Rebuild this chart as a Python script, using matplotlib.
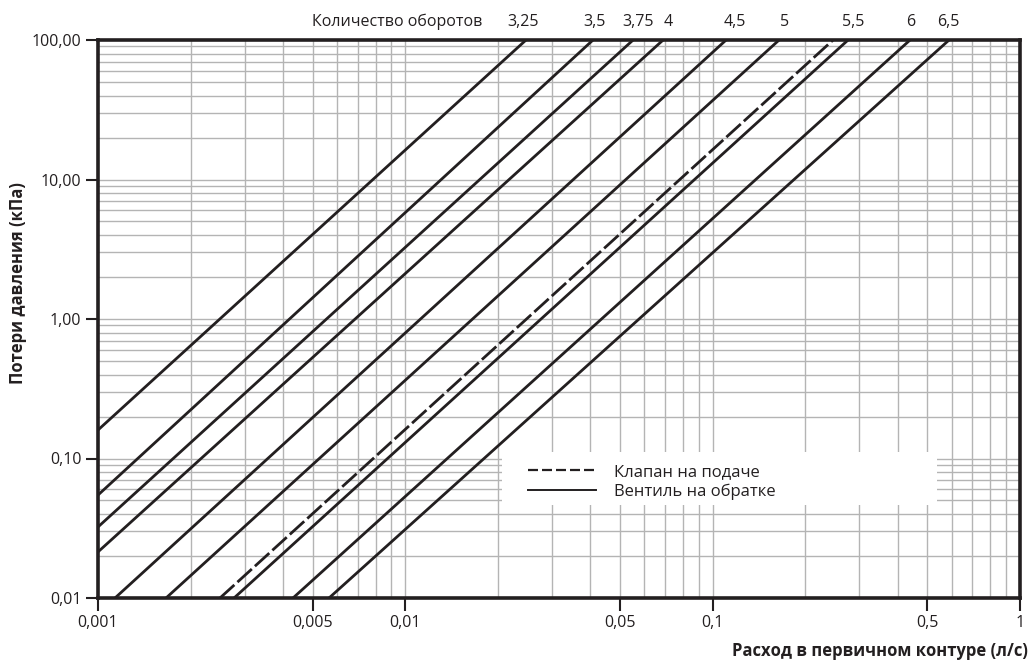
import matplotlib
matplotlib.use("Agg")
import matplotlib.pyplot as plt
from matplotlib.lines import Line2D
from matplotlib.patches import Rectangle
from matplotlib.ticker import FixedLocator, FixedFormatter, LogLocator, NullFormatter

plt.rcParams['font.family'] = ['Open Sans', 'DejaVu Sans']

# ---- data ----
line_start_x = [0.001, 0.001, 0.001, 0.001, 0.001136, 0.001665, 0.002494, 0.002771, 0.00431, 0.005646]
line_start_y = [0.16, 0.0547, 0.0323, 0.0214, 0.01, 0.01, 0.01, 0.01, 0.01, 0.01]
line_end_x = [0.0247, 0.0408, 0.0551, 0.0690, 0.1106, 0.1645, 0.2465, 0.2758, 0.4388, 0.5878]
line_end_y = [100, 100, 100, 100, 100, 100, 100, 100, 100, 100]
line_dashed = [False, False, False, False, False, False, True, False, False, False]

turn_labels = ["3,25", "3,5", "3,75", "4", "4,5", "5", "5,5", "6", "6,5"]
turn_label_x = [0.02415, 0.0414, 0.0572, 0.0716, 0.1183, 0.172, 0.2864, 0.442, 0.583]

x_ticks = [0.001, 0.005, 0.01, 0.05, 0.1, 0.5, 1]
x_tick_labels = ["0,001", "0,005", "0,01", "0,05", "0,1", "0,5", "1"]
y_ticks = [0.01, 0.1, 1, 10, 100]
y_tick_labels = ["0,01", "0,10", "1,00", "10,00", "100,00"]

legend_labels = ["Клапан на подаче", "Вентиль на обратке"]

INK = '#231f20'

# ---- figure ----
fig = plt.figure(figsize=(10.30, 6.61), dpi=100)
ax = fig.add_axes([98/1030, 63/661, 922/1030, 558/661])
ax.set_xscale('log')
ax.set_yscale('log')
ax.set_xlim(0.001, 1)
ax.set_ylim(0.01, 100)

ax.xaxis.set_major_locator(FixedLocator(x_ticks))
ax.xaxis.set_major_formatter(FixedFormatter(x_tick_labels))
ax.xaxis.set_minor_locator(LogLocator(base=10, subs=range(2, 10)))
ax.xaxis.set_minor_formatter(NullFormatter())
ax.yaxis.set_major_locator(FixedLocator(y_ticks))
ax.yaxis.set_major_formatter(FixedFormatter(y_tick_labels))
ax.yaxis.set_minor_locator(LogLocator(base=10, subs=range(2, 10)))
ax.yaxis.set_minor_formatter(NullFormatter())

# grid (all decades and minor)
grid_kw = dict(color='#b4b4b4', lw=1.0, zorder=0.5)
for d in [0.001, 0.01, 0.1]:
    for s in range(1, 10):
        v = d * s
        if 0.001 < v < 1:
            ax.axvline(v, **grid_kw)
for d in [0.01, 0.1, 1, 10]:
    for s in range(1, 10):
        v = d * s
        if 0.01 < v < 100:
            ax.axhline(v, **grid_kw)

ax.tick_params(axis='both', which='major', direction='out', length=9, width=1.5,
               color=INK, labelsize=11.5, labelcolor=INK, pad=3)
ax.tick_params(axis='both', which='minor', length=0)
for sp in ax.spines.values():
    sp.set_linewidth(2.6)
    sp.set_color(INK)

# data lines
for x0, y0, x1, y1, dsh in zip(line_start_x, line_start_y, line_end_x, line_end_y, line_dashed):
    if dsh:
        ax.plot([x0, x1], [y0, y1], color=INK, lw=2.0, dashes=(7, 1.5),
                dash_capstyle='butt', zorder=3)
    else:
        ax.plot([x0, x1], [y0, y1], color=INK, lw=2.0, zorder=3,
                solid_capstyle='butt')

# top labels
trans = ax.get_xaxis_transform()
for lab, lx in zip(turn_labels, turn_label_x):
    ax.annotate(lab, xy=(lx, 1.0), xycoords=trans, xytext=(0, 13),
                textcoords='offset points', ha='center', va='center',
                fontsize=11.5, color=INK)
ax.annotate("Количество оборотов", xy=(0.0178, 1.0), xycoords=trans, xytext=(0, 13),
            textcoords='offset points', ha='right', va='center',
            fontsize=11.5, color=INK)

# legend: white box covering grid, then frameless legend
ax.add_patch(Rectangle((0.438, 0.167), 0.472, 0.095, transform=ax.transAxes,
                       facecolor='white', edgecolor='none', zorder=4))
handles = [Line2D([], [], color=INK, lw=1.6, dashes=(4.5, 1.8)),
           Line2D([], [], color=INK, lw=1.4)]
leg = ax.legend(handles, legend_labels, loc='center left',
                bbox_to_anchor=(0.466, 0.208), frameon=False,
                fontsize=12, handlelength=4.1, handletextpad=1.08,
                labelspacing=0.22, borderpad=0, borderaxespad=0)
for t in leg.get_texts():
    t.set_color(INK)
leg.set_zorder(5)

fig.text(1028/1030, 1 - 651/661, "Расход в первичном контуре (л/с)", ha='right', va='center',
         fontsize=12, fontweight='bold', color=INK)
fig.text(18/1030, 1 - 283/661, "Потери давления (кПа)", ha='center', va='center',
         rotation=90, fontsize=12, fontweight='bold', color=INK)

fig.savefig("out.png", dpi=100)
